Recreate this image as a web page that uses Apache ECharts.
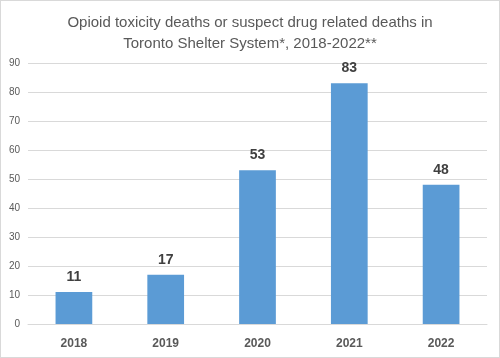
<!DOCTYPE html>
<html><head><meta charset="utf-8">
<script src="https://cdn.jsdelivr.net/npm/echarts@6/dist/echarts.min.js"></script>
<style>html,body{margin:0;padding:0;background:#fff}#c{width:498px;height:356px;border:1px solid #d9d9d9}</style>
</head><body><div id="c"></div>
<script>
const categories = ["2018","2019","2020","2021","2022"];
const deaths = [11,17,53,83,48];
const titleText = "Opioid toxicity deaths or suspect drug related deaths in\nToronto Shelter System*, 2018-2022**";
const chart = echarts.init(document.getElementById('c'), null, {renderer:'canvas'});
chart.setOption({
  animation:false,
  title:{text:titleText,left:'center',top:6,textStyle:{fontFamily:'Liberation Sans',fontSize:15,fontWeight:'normal',color:'#595959',lineHeight:21}},
  grid:{left:27,right:12,top:62,bottom:33},
  xAxis:{type:'category',data:categories,axisLine:{lineStyle:{color:'#d9d9d9'}},axisTick:{show:false},
    axisLabel:{color:'#595959',fontWeight:'bold',fontSize:12,fontFamily:'Liberation Sans',margin:14}},
  yAxis:{type:'value',min:0,max:90,interval:10,axisLine:{show:false},axisTick:{show:false},
    axisLabel:{color:'#595959',fontSize:10,fontFamily:'Liberation Sans',margin:8},
    splitLine:{lineStyle:{color:'#d9d9d9'}}},
  series:[{type:'bar',data:deaths,barCategoryGap:'60%',itemStyle:{color:'#5b9bd5'},
    label:{show:true,position:'top',distance:8,color:'#404040',fontWeight:'bold',fontSize:14,fontFamily:'Liberation Sans'}}]
});
</script></body></html>
